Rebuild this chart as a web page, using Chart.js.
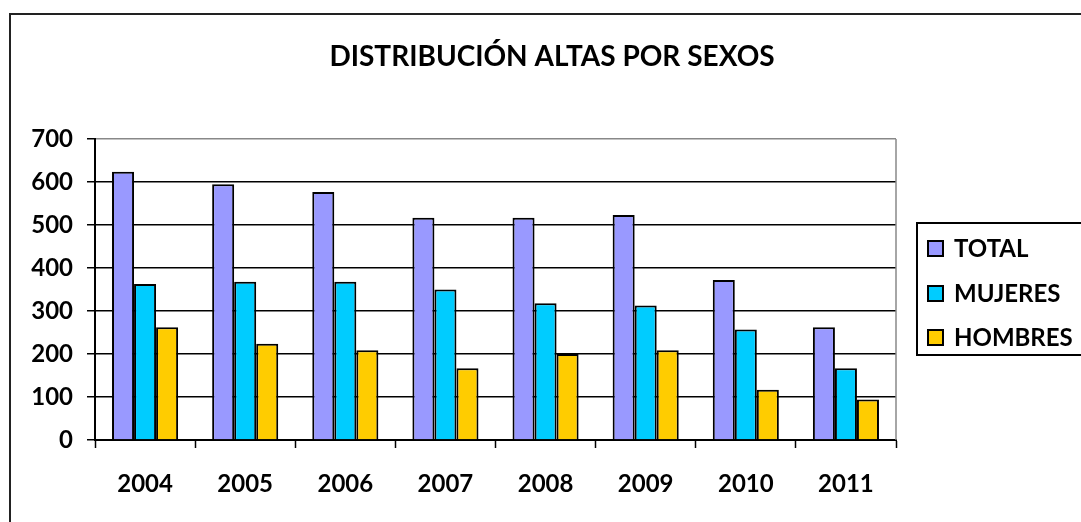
<html lang="es">
<head>
    <meta charset="UTF-8">
    <title>Distribución altas por sexos</title>
    <script src="https://cdn.jsdelivr.net/npm/chart.js"></script>
    <style>
        body { margin: 0; background: #fff; overflow: hidden; }
        #grafico { display: block; }
    </style>
</head>
<body>

    <canvas id="grafico" width="1081" height="522"></canvas>

    <script>
        // datos
        const anios = ['2004', '2005', '2006', '2007', '2008', '2009', '2010', '2011'];
        const total = [624, 595, 577, 517, 517, 523, 372, 262];
        const mujeres = [363, 368, 368, 350, 318, 313, 257, 167];
        const hombres = [262, 224, 209, 167, 200, 209, 117, 94];
        const titulo = 'DISTRIBUCIÓN ALTAS POR SEXOS';

        const fuente = 'Lato, "Open Sans", sans-serif';

        // marco, título, borde del área y leyenda
        const decorado = {
            id: 'decorado',
            beforeDraw(chart) {
                const c = chart.ctx;
                c.save();
                c.strokeStyle = '#222';
                c.lineWidth = 2;
                c.beginPath();
                c.moveTo(10, 600);
                c.lineTo(10, 14);
                c.lineTo(1200, 14);
                c.stroke();
                c.restore();
            },
            afterDraw(chart) {
                const c = chart.ctx;
                const a = chart.chartArea;
                c.save();
                // título
                c.fillStyle = '#000';
                c.font = 'bold 28px ' + fuente;
                c.textAlign = 'center';
                c.textBaseline = 'middle';
                c.fillText(titulo, 552, 57);

                // borde derecho gris
                c.strokeStyle = '#888';
                c.lineWidth = 1.5;
                c.beginPath();
                c.moveTo(a.right, a.top);
                c.lineTo(a.right, a.bottom);
                c.stroke();

                // leyenda
                c.strokeStyle = '#000';
                c.lineWidth = 2;
                c.strokeRect(917, 223, 200, 132);
                c.font = 'bold 24px ' + fuente;
                c.textAlign = 'left';
                const ys = [248, 293, 337];
                chart.data.datasets.forEach((ds, i) => {
                    c.fillStyle = ds.backgroundColor;
                    c.fillRect(928, ys[i] - 7, 15, 15);
                    c.lineWidth = 2;
                    c.strokeRect(928, ys[i] - 7, 15, 15);
                    c.fillStyle = '#000';
                    c.fillText(ds.label, 954, ys[i] + 1);
                });
                c.restore();
            }
        };

        const ctx = document.getElementById('grafico').getContext('2d');
        const grafico = new Chart(ctx, {
            type: 'bar',
            data: {
                labels: anios,
                datasets: [
                    { label: 'TOTAL', data: total, backgroundColor: '#9999FF' },
                    { label: 'MUJERES', data: mujeres, backgroundColor: '#00CCFF' },
                    { label: 'HOMBRES', data: hombres, backgroundColor: '#FFCC00' }
                ].map(d => Object.assign(d, {
                    borderColor: '#000',
                    borderWidth: 2,
                    categoryPercentage: 0.66,
                    barPercentage: 1.0
                }))
            },
            plugins: [decorado],
            options: {
                responsive: false,
                animation: false,
                layout: {
                    padding: { top: 139, right: 185, bottom: 0, left: 0 }
                },
                plugins: {
                    legend: { display: false },
                    title: { display: false },
                    tooltip: { enabled: false }
                },
                scales: {
                    x: {
                        afterFit: s => { s.height = 82; },
                        grid: {
                            drawOnChartArea: false,
                            drawTicks: true,
                            tickLength: 8,
                            tickColor: '#000',
                            tickWidth: 1.5
                        },
                        border: { color: '#000', width: 2 },
                        ticks: {
                            color: '#000',
                            padding: 22,
                            font: { family: fuente, size: 24, weight: 'bold' }
                        }
                    },
                    y: {
                        min: 0,
                        max: 700,
                        afterFit: s => { s.width = 95; },
                        grid: {
                            color: c => c.tick && c.tick.value === 700 ? '#888' : '#000',
                            lineWidth: 1.5,
                            tickLength: 8,
                            tickColor: '#000'
                        },
                        border: { color: '#000', width: 2 },
                        ticks: {
                            stepSize: 100,
                            color: '#000',
                            padding: 14,
                            font: { family: fuente, size: 24, weight: 'bold' }
                        }
                    }
                }
            }
        });
    </script>

</body>
</html>
